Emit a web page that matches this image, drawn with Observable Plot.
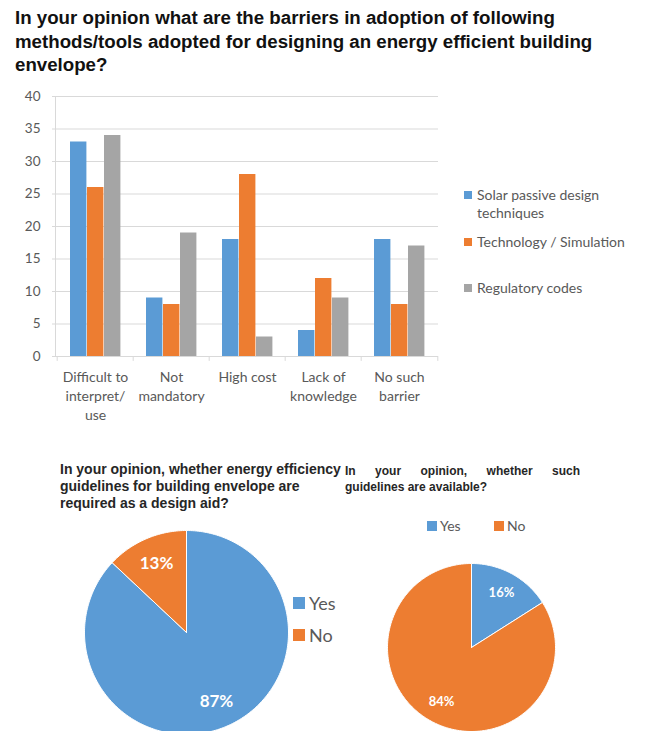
<!DOCTYPE html>
<html><head><meta charset="utf-8">
<script src="https://cdn.jsdelivr.net/npm/d3@7"></script>
<script src="https://cdn.jsdelivr.net/npm/@observablehq/plot@0.6"></script>
<style>
body{margin:0;background:#fff;}
#page{position:relative;width:645px;height:731px;overflow:hidden;font-family:Lato,"Open Sans",sans-serif;}
.abs{position:absolute;}
#title{left:15px;top:6px;font:bold 18.7px/23.5px "Liberation Sans",Arial,sans-serif;color:#111;white-space:nowrap;}
.sq{position:absolute;}
.lg{position:absolute;color:#595959;white-space:nowrap;}
#t1{left:60px;top:461px;font:bold 14px/17px "Liberation Sans",Arial,sans-serif;color:#262626;white-space:nowrap;}
#t2{left:345px;top:463px;width:235px;font:bold 12px/16px "Liberation Sans",Arial,sans-serif;color:#262626;}
#t2 .j{text-align:justify;text-align-last:justify;}
</style></head><body><div id="page">
<div id="title" class="abs">In your opinion what are the barriers in adoption of following<br>methods/tools adopted for designing an energy efficient building<br>envelope?</div>
<div id="bars" class="abs" style="left:0;top:85px"></div>
<div id="barLegend"></div>
<div id="t1" class="abs">In your opinion, whether energy efficiency<br>guidelines for building envelope are<br>required as a design aid?</div>
<div id="t2" class="abs"><div class="j">In your opinion, whether such</div><div>guidelines are available?</div></div>
<div id="pie1" class="abs" style="left:84px;top:530px"></div>
<div id="pie2" class="abs" style="left:387px;top:563px"></div>
<div id="pieLegends"></div>
</div>
<script>
// ---- data ----
const categories = ["Difficult to\ninterpret/\nuse", "Not\nmandatory", "High cost", "Lack of\nknowledge", "No such\nbarrier"];
const seriesNames = ["Solar passive design techniques", "Technology / Simulation", "Regulatory codes"];
const solarPassive = [33, 9, 18, 4, 18];
const technologySimulation = [26, 8, 28, 12, 8];
const regulatoryCodes = [34, 19, 3, 9, 17];
const yTicks = [0, 5, 10, 15, 20, 25, 30, 35, 40];
const seriesColors = ["#5B9BD5", "#ED7D31", "#A5A5A5"];
const answers = ["Yes", "No"];
const answerColors = ["#5B9BD5", "#ED7D31"];
const designAidValues = [87, 13];
const availableValues = [16, 84];

// ---- bar chart ----
const seriesValues = [solarPassive, technologySimulation, regulatoryCodes];
const rows = categories.flatMap((c, i) => seriesNames.map((s, k) => ({category: c, series: s, value: seriesValues[k][i]})));
const W = 440, mL = 55, mR = 2;
const bw = (W - mL - mR) / categories.length;
const pad = 13, barW = 17;
const grid = "#d9d9d9";
const barPlot = Plot.plot({
  width: W, height: 346,
  marginTop: 11, marginBottom: 75, marginLeft: mL, marginRight: mR,
  style: {fontFamily: "Lato, sans-serif", fontSize: "13px", color: "#595959", background: "transparent"},
  x: {domain: categories, padding: 0, axis: null},
  y: {domain: [0, 40], axis: null},
  color: {domain: seriesNames, range: seriesColors},
  marks: [
    Plot.gridY({ticks: yTicks, stroke: grid, strokeOpacity: 1}),
    Plot.frame({anchor: "left", stroke: grid}),
    Plot.ruleY([0], {stroke: grid}),
    Plot.ruleX(categories, {x: d => d, dx: -bw / 2, y1: 0, y2: -0.75, stroke: grid}),
    Plot.ruleX(categories.slice(-1), {x: d => d, dx: bw / 2, y1: 0, y2: -0.75, stroke: grid}),
    ...seriesNames.map((s, k) => Plot.barY(rows.filter(r => r.series === s), {
      x: "category", y: "value", fill: "series",
      insetLeft: pad + barW * k, insetRight: bw - pad - barW * (k + 1)
    })),
    Plot.axisY({ticks: yTicks, tickSize: 3, tickPadding: 12, stroke: grid, fill: "#595959", fontSize: 13.5, label: null}),
    Plot.axisX({tickSize: 0, tickPadding: 12, fill: "#595959", fontSize: 14, lineHeight: 1.37, label: null})
  ]
});
document.getElementById("bars").append(barPlot);

// bar legend
const barLegendPos = [{y: 195, lines: ["Solar passive design", "techniques"]}, {y: 242, lines: ["Technology / Simulation"]}, {y: 288, lines: ["Regulatory codes"]}];
const bl = document.getElementById("barLegend");
seriesNames.forEach((s, k) => {
  const p = barLegendPos[k];
  bl.insertAdjacentHTML("beforeend",
    `<div class="sq" style="left:464px;top:${p.y - 4}px;width:8px;height:8px;background:${seriesColors[k]}"></div>` +
    `<div class="lg" style="left:477px;top:${p.y - 9}px;font-size:14px;line-height:18px">${p.lines.join("<br>")}</div>`);
});

// ---- pies ----
function pieData(values) {
  const arcs = d3.pie().sort(null).value(d => d)(values);
  const pts = arcs.flatMap((a, i) => {
    const n = Math.max(2, Math.ceil((a.endAngle - a.startAngle) / 0.02));
    const p = [{answer: answers[i], x: 0, y: 0}];
    for (let j = 0; j <= n; j++) {
      const t = a.startAngle + (a.endAngle - a.startAngle) * j / n;
      p.push({answer: answers[i], x: Math.sin(t), y: Math.cos(t)});
    }
    p.push({answer: answers[i], x: 0, y: 0});
    return p;
  });
  const labels = arcs.map((a, i) => {
    const m = (a.startAngle + a.endAngle) / 2;
    return {x: 0.74 * Math.sin(m), y: 0.74 * Math.cos(m), text: values[i] + "%"};
  });
  return {pts, labels};
}
function piePlot(values, size, fontSize) {
  const {pts, labels} = pieData(values);
  return Plot.plot({
    width: size, height: size, margin: 0,
    style: {fontFamily: "Lato, sans-serif", background: "transparent", overflow: "visible"},
    x: {domain: [-1, 1], axis: null},
    y: {domain: [-1, 1], axis: null},
    color: {domain: answers, range: answerColors},
    marks: [
      Plot.line(pts, {x: "x", y: "y", z: "answer", fill: "answer", stroke: "white", strokeWidth: 1}),
      Plot.text(labels, {x: "x", y: "y", text: "text", fill: "white", fontWeight: "bold", fontSize})
    ]
  });
}
document.getElementById("pie1").append(piePlot(designAidValues, 204, 17));
document.getElementById("pie2").append(piePlot(availableValues, 168, 13));

const pl = document.getElementById("pieLegends");
const pie1Leg = [{y: 603}, {y: 635}];
answers.forEach((a, i) => {
  pl.insertAdjacentHTML("beforeend",
    `<div class="sq" style="left:293px;top:${pie1Leg[i].y - 6}px;width:12px;height:12px;background:${answerColors[i]}"></div>` +
    `<div class="lg" style="left:309px;top:${pie1Leg[i].y - 12}px;font-size:18px;line-height:24px">${a}</div>`);
});
const pie2Leg = [{x: 427}, {x: 494}];
answers.forEach((a, i) => {
  pl.insertAdjacentHTML("beforeend",
    `<div class="sq" style="left:${pie2Leg[i].x}px;top:521px;width:10px;height:10px;background:${answerColors[i]}"></div>` +
    `<div class="lg" style="left:${pie2Leg[i].x + 13}px;top:517px;font-size:14px;line-height:18px">${a}</div>`);
});
</script>
</body></html>
